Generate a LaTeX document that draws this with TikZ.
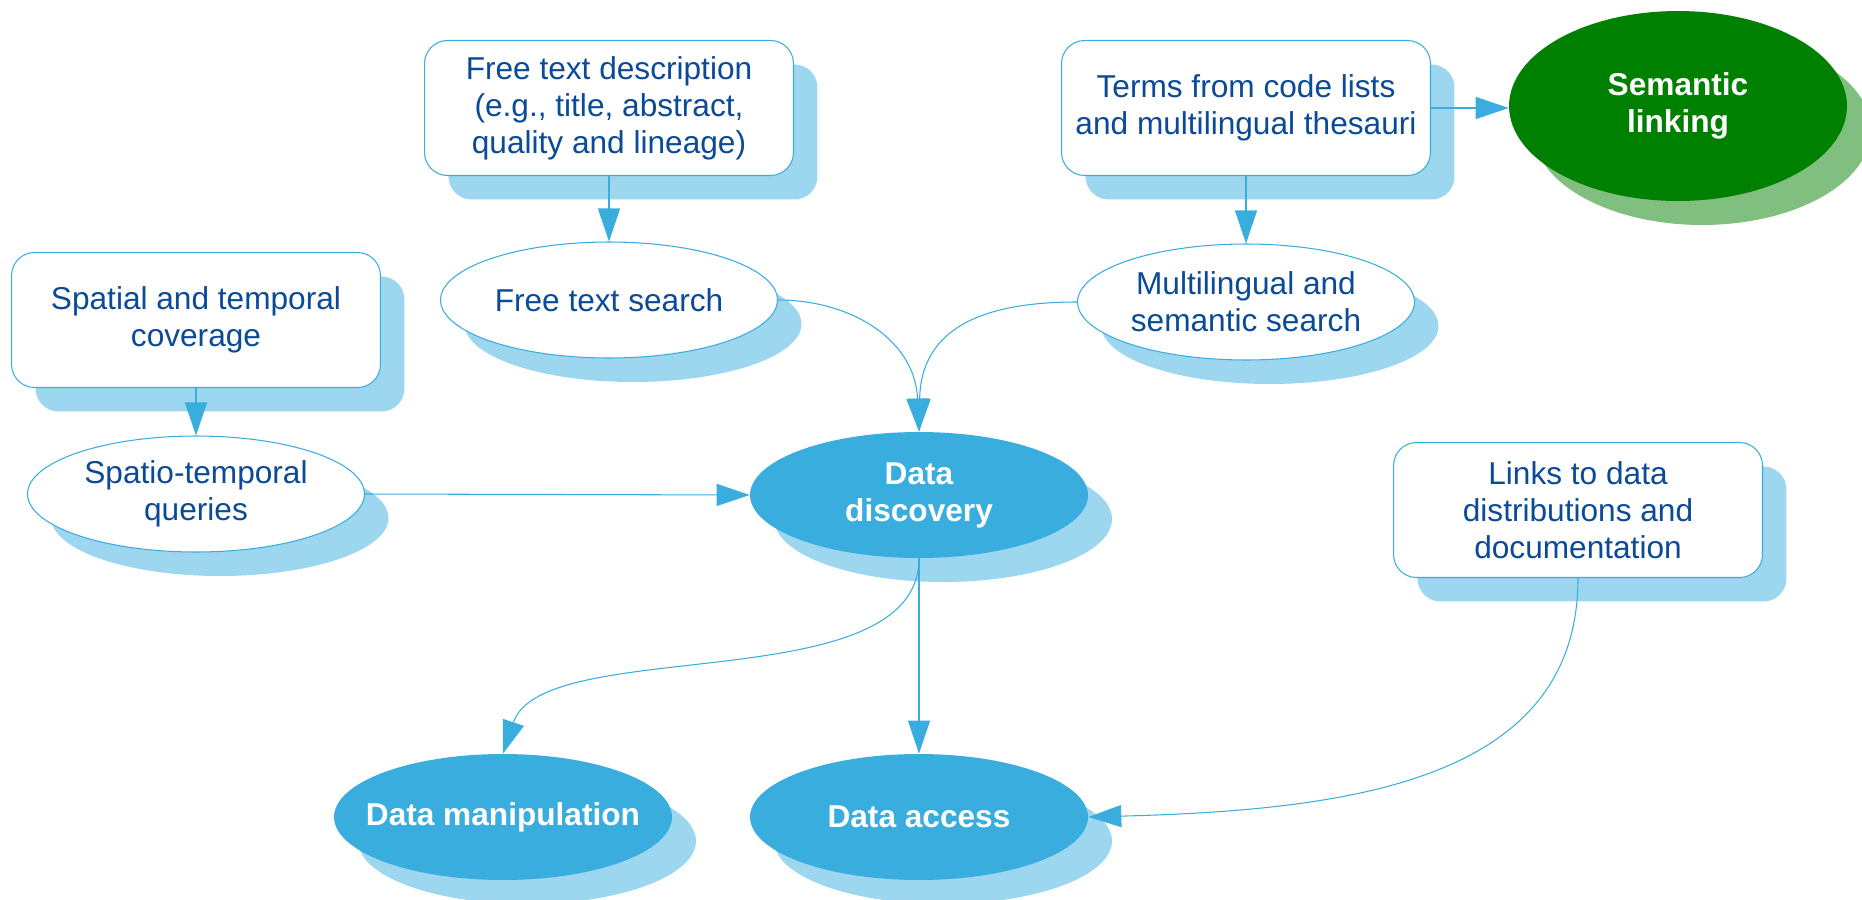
\documentclass[tikz,border=0pt]{standalone}
\usepackage{fontspec}
\setmainfont{Liberation Sans}
\usepackage{xcolor}
\usepackage{tikz}
\usetikzlibrary{arrows.meta,shapes.geometric,shadows,positioning}

\definecolor{skyline}{HTML}{3AADDF}
\definecolor{inkblue}{HTML}{0B4A96}
\definecolor{leafgreen}{HTML}{008000}

\begin{document}
\begin{tikzpicture}[x=0.02cm,y=-0.02cm,
  every node/.style={font=\fontsize{18}{21}\selectfont, align=center},
  oval shadow/.style={drop shadow={shadow xshift=0.48cm, shadow yshift=-0.48cm, fill=#1, opacity=1}},
  source box/.style={rectangle, rounded corners=0.46cm, draw=skyline, line width=0.6pt, fill=white, text=inkblue,
    minimum width=7.38cm, minimum height=2.7cm, inner sep=0pt, oval shadow=skyline!50!white},
  search oval/.style={ellipse, draw=skyline, line width=0.6pt, fill=white, text=inkblue,
    minimum width=6.74cm, minimum height=2.32cm, inner sep=0pt, oval shadow=skyline!50!white},
  task oval/.style={ellipse, fill=#1, text=white, font=\fontsize{18}{21}\selectfont\bfseries,
    minimum width=6.76cm, minimum height=2.52cm, inner sep=0pt, oval shadow=#1!50!white},
  task oval/.default=skyline,
  link/.style={draw=skyline, line width=0.6pt, -{Triangle[length=0.66cm,width=0.44cm]}}]
  \useasboundingbox (0,0) rectangle (1862,899); % 与原图同尺寸
  \node[source box] (spatial) at (196,320) {Spatial and temporal\\coverage};
  \node[search oval] (spatio) at (196,494) {Spatio-temporal\\queries};
  \node[source box] (freedesc) at (609,108) {Free text description\\(e.g., title, abstract,\\quality and lineage)};
  \node[search oval] (freesearch) at (609,300) {Free text search};
  \node[source box] (terms) at (1246,108) {Terms from code lists\\and multilingual thesauri};
  \node[search oval] (multi) at (1246,302) {Multilingual and\\semantic search};
  \node[task oval=leafgreen, minimum height=3.8cm] (semantic) at (1678,106) {Semantic\\linking};
  \node[task oval] (discovery) at (919,495) {Data\\discovery};
  \node[task oval, inner xsep=-0.8cm] (manip) at (503,817) {Data manipulation};
  \node[task oval] (access) at (919,817) {Data access};
  \node[source box] (links) at (1578,510) {Links to data\\distributions and\\documentation};
  \draw[link] (spatial) -- (spatio);
  \draw[link] (freedesc) -- (freesearch);
  \draw[link] (terms) -- (multi);
  \draw[link] (terms.east) -- (terms.east -| semantic.west);
  \draw[link] (spatio.east) -- (discovery.west);
  \draw[link] (freesearch.east) .. controls +(73,0) and +(-4,-92) .. (discovery.north);
  \draw[link] (multi.west) .. controls +(-97,0) and +(2,-102) .. (discovery.north);
  \draw[link] (discovery) -- (access);
  \draw[link] (discovery.south) .. controls +(0,143) and +(40,-120) .. (manip.north); % 弯向左下
  \draw[link] (links.south) .. controls +(0,203) and +(262,-7) .. (access.east);
\end{tikzpicture}
\end{document}
